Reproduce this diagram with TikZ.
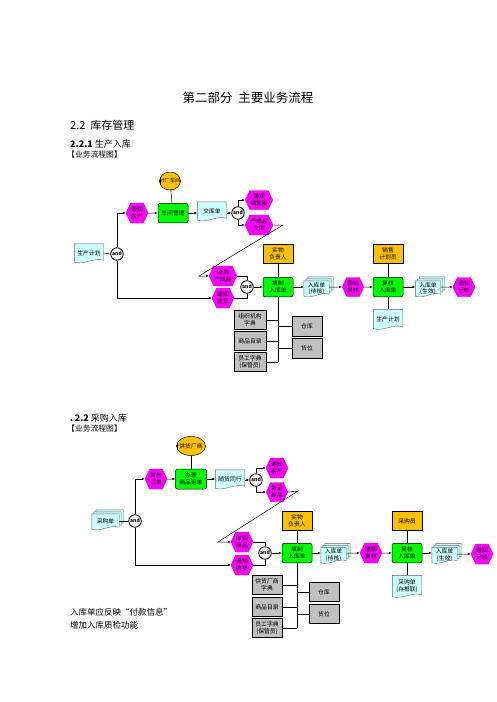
\documentclass[tikz,border=0pt]{standalone}
\usepackage{fontspec}
\setmainfont{Noto Sans CJK SC}
\usetikzlibrary{shapes.geometric,shapes.symbols,arrows.meta,backgrounds}

\definecolor{hexmag}{RGB}{255,0,255}
\definecolor{boxgreen}{RGB}{0,255,0}
\definecolor{roleorange}{RGB}{255,192,0}
\definecolor{doccyan}{RGB}{204,255,255}
\definecolor{dictgray}{RGB}{192,192,192}

\tikzset{
  lbl/.style={font=\fontsize{5.8}{6.6}\selectfont, align=center, inner sep=0.5pt},
  hexbox/.style={lbl, signal, signal to=east and west, signal pointer angle=130,
    fill=hexmag, draw=hexmag!75!black, line width=.4pt, minimum width=21pt, minimum height=20pt},
  taskbox/.style={lbl, rectangle, rounded corners=2pt, fill=boxgreen, draw=black,
    line width=.5pt, minimum width=30pt, minimum height=19.5pt},
  rolebox/.style={lbl, rectangle, fill=roleorange, draw=black, line width=.5pt,
    minimum width=30pt, minimum height=19pt},
  roleoval/.style={lbl, ellipse, fill=roleorange, draw=black, line width=.5pt,
    inner xsep=-4pt, inner ysep=0pt},
  dictbox/.style={lbl, rectangle, fill=dictgray, draw=black, line width=.9pt,
    minimum width=31pt, minimum height=19pt},
  docnode/.style={lbl, rectangle, minimum width=29pt, minimum height=18pt},
  stacknode/.style={lbl, rectangle, minimum width=25pt, minimum height=15pt},
  andgate/.style={circle, fill=white, draw=black, line width=.8pt, minimum size=12.5pt,
    inner sep=0pt, font=\fontsize{5}{5}\selectfont\bfseries},
  arr/.style={-{Latex[length=3pt,width=2.4pt]}, line width=.5pt},
  conn/.style={line width=.5pt},
}

% wavy document sheet behind a node (#1 = offset)
\newcommand{\docsheet}[2][0pt]{%
  \begin{scope}[on background layer]
    \filldraw[fill=doccyan, draw=black!60, line width=.4pt]
      ([shift={(#1,#1)}]#2.north west) -- ([shift={(#1,#1)}]#2.north east)
      -- ([shift={(#1,#1+2pt)}]#2.south east)
      .. controls +(-9pt,3pt) and +(9pt,-3pt) .. ([shift={(#1,#1)}]#2.south west) -- cycle;
  \end{scope}}
\newcommand{\docstack}[1]{\docsheet[4pt]{#1}\docsheet[2pt]{#1}\docsheet{#1}}
\newcommand{\leftbar}[1]{\draw[line width=1.6pt] ([xshift=.8pt]#1.north west) -- ([xshift=.8pt]#1.south west);}

\begin{document}
\begin{tikzpicture}[x=1pt,y=-1pt]
  \useasboundingbox (0,0) rectangle (496,702);

  % Headings
  \node[font=\fontsize{12.5}{13}\selectfont] (title) at (248,98) {第二部分\ \ 主要业务流程};
  \node[anchor=west, font=\fontsize{11}{12}\selectfont, inner sep=0pt] (sec) at (70,125) {2.2\ \ 库存管理};
  \node[anchor=west, font=\fontsize{9}{10}\selectfont, inner sep=0pt] (sub1) at (70,144) {\textbf{2.2.1}\ 生产入库};
  \node[anchor=west, font=\fontsize{7.8}{8}\selectfont, inner sep=0pt] (tag1) at (67,155) {【业务流程图】};

  % ---- 生产入库 ----
  \node[roleoval, font=\fontsize{5.2}{6}\selectfont, minimum width=21pt, minimum height=18pt] (fc) at (170,181) {分厂车间};
  \draw[line width=1.2pt] (fc.160) -- (fc.200);
  \node[hexbox] (tzsc) at (137,213) {通知\\生产};
  \node[taskbox] (cjgl) at (173,213) {车间管理};
  \node[docnode] (jkd) at (212,211) {交库单}; \docsheet{jkd}
  \node[andgate] (and1) at (238,213) {and};
  \node[hexbox, minimum width=22pt, minimum height=19pt] (tzxs) at (259,200) {通知\\销售部};
  \node[hexbox, minimum width=22pt] (ccp) at (259,225) {产成品\\交库};
  \node[docnode] (scjh) at (89,253) {生产计划}; \docsheet{scjh}
  \node[andgate] (and0) at (117,254) {and};
  \node[hexbox] (sdcp) at (223,276) {收到\\产成品};
  \node[hexbox] (tzsh) at (223,298) {通知\\收货};
  \node[andgate] (and2) at (247,287) {and};
  \node[rolebox] (swfz) at (278,254) {实物\\负责人}; \leftbar{swfz}
  \node[taskbox] (tzrk) at (278,287) {填制\\入库单};
  \node[stacknode] (rkdh) at (316.5,288.5) {入库单\\(待核)}; \docstack{rkdh}
  \node[hexbox, minimum width=20pt, minimum height=19pt] (tzfh) at (353,287) {通知\\复核};
  \node[rolebox] (xsjh) at (388,254) {销售\\计划员}; \leftbar{xsjh}
  \node[taskbox] (fhrk) at (388,287) {复核\\入库单};
  \node[docnode, minimum height=19pt] (scjh2) at (388,319) {生产计划}; \docsheet{scjh2}
  \node[stacknode] (rkds) at (428,288.5) {入库单\\(生效)}; \docstack{rkds}
  \node[hexbox, minimum width=22pt, minimum height=19pt] (tzjz) at (464,287) {通知\\记帐};
  \node[dictbox, minimum width=32pt] (zz) at (250,320) {组织机构\\字典};
  \node[dictbox, minimum width=32pt] (spml) at (250,341) {商品目录};
  \node[dictbox, minimum width=32pt] (ygzd) at (250,362) {员工字典\\(保管员)};
  \node[dictbox, minimum width=30pt, minimum height=20pt] (ck) at (307,326) {仓库};
  \node[dictbox, minimum width=30pt, minimum height=20pt] (hw) at (307,348) {货位};

  \coordinate (bend1) at (283,225);
  \coordinate (bend2) at (199,276);

  \draw[conn] (fc) -- (cjgl);
  \draw[conn] (scjh.east) -- (and0.west);
  \draw[arr] (and0.north) |- (tzsc.west);
  \draw[arr] (and0.south) |- (tzsh.west);
  \draw[arr] (tzsc) -- (cjgl);
  \draw[arr] (cjgl) -- (jkd.west |- cjgl);
  \draw[arr] (jkd.east |- and1) -- (and1);
  \draw[arr] (and1.north) |- (tzxs.west);
  \draw[arr] (and1.south) |- (ccp.west);
  \draw[arr] (ccp.east) -- (bend1) -- (bend2) -- (sdcp.west);
  \draw[conn] (sdcp.east) -| (and2.north);
  \draw[conn] (tzsh.east) -| (and2.south);
  \draw[arr] (and2) -- (tzrk);
  \draw[conn] (swfz) -- (tzrk);
  \draw[arr] (tzrk.east) -- (tzrk.east -| rkdh.west);
  \draw[arr] (rkdh.east |- tzfh) -- (tzfh);
  \draw[arr] (tzfh) -- (fhrk);
  \draw[conn] (xsjh) -- (fhrk);
  \draw[conn] (fhrk) -- (scjh2);
  \draw[arr] (fhrk.east) -- (fhrk.east -| rkds.west);
  \draw[arr] (rkds.east |- tzjz) -- (tzjz);
  \draw[conn] (tzrk.south) -- (tzrk.south |- ygzd.east);
  \foreach \d in {zz,spml,ygzd}
    \draw[conn] (\d.east) -- (\d.east -| tzrk.south);
  \foreach \d in {ck,hw}
    \draw[conn] (\d.west) -- (\d.west -| tzrk.south);

  % ---- 采购入库 ----
  \node[anchor=west, font=\fontsize{9}{10}\selectfont, inner sep=0pt] (sub2) at (70,418) {\textbf{.\,2.2}\ 采购入库};
  \node[anchor=west, font=\fontsize{7.8}{8}\selectfont, inner sep=0pt] (tag2) at (67,429) {【业务流程图】};

  \node[roleoval, minimum width=29pt, minimum height=19pt] (ghcs) at (191,446) {供货厂商};
  \draw[line width=1.2pt] (ghcs.166) -- (ghcs.194);
  \node[hexbox, minimum width=20pt] (fcdd) at (156,479) {发出\\订单};
  \node[taskbox, minimum width=31pt, minimum height=20pt] (blsp) at (191,479) {办理\\商品运单};
  \node[docnode] (shtx) at (230,479) {随货同行}; \docsheet{shtx}
  \node[andgate] (and4) at (256,480) {and};
  \node[hexbox] (tzkh) at (277,468) {通知\\客户};
  \node[hexbox, minimum height=19pt] (fysp) at (277,492) {发运\\商品};
  \node[stacknode, minimum width=27pt] (cgd) at (105.5,521.5) {采购单}; \docstack{cgd}
  \node[andgate] (and3) at (135,521) {and};
  \node[hexbox, minimum width=20pt] (sdsp) at (242,542) {收到\\商品};
  \node[hexbox, minimum width=20pt] (tzsh2) at (242,565) {通知\\收货};
  \node[andgate] (and5) at (265,553) {and};
  \node[rolebox] (swfz2) at (297,521) {实物\\负责人}; \leftbar{swfz2}
  \node[taskbox] (tzrk2) at (297,553) {填制\\入库单};
  \node[stacknode] (rkdh2) at (333.5,555) {入库单\\(待核)}; \docstack{rkdh2}
  \node[hexbox] (tzfh2) at (371,553) {通知\\复核};
  \node[rolebox] (cgy) at (407,521) {采购员}; \leftbar{cgy}
  \node[taskbox] (fhrk2) at (407,553) {复核\\入库单};
  \node[docnode, minimum height=21pt] (cgdc) at (407,586) {采购单\\(存根联)}; \docsheet{cgdc}
  \node[stacknode] (rkds2) at (444.5,555) {入库单\\(生效)}; \docstack{rkds2}
  \node[hexbox] (tzjz2) at (482,554) {通知\\记帐};
  \node[dictbox, minimum width=30pt] (ghzd) at (267,585) {供货厂商\\字典};
  \node[dictbox, minimum width=30pt] (spml2) at (267,607) {商品目录};
  \node[dictbox, minimum width=30pt] (ygzd2) at (267,628) {员工字典\\(保管员)};
  \node[dictbox, minimum width=30pt] (ck2) at (324,592) {仓库};
  \node[dictbox, minimum width=30pt] (hw2) at (324,614) {货位};

  \coordinate (bend3) at (298,491);
  \coordinate (bend4) at (218,542);

  \draw[conn] (ghcs) -- (blsp);
  \draw[conn] (cgd.east |- and3) -- (and3.west);
  \draw[arr] (and3.north) |- (fcdd.west);
  \draw[arr] (and3.south) |- (tzsh2.west);
  \draw[arr] (fcdd) -- (blsp);
  \draw[arr] (blsp) -- (shtx.west |- blsp);
  \draw[arr] (shtx.east |- and4) -- (and4);
  \draw[arr] (and4.north) |- (tzkh.west);
  \draw[arr] (and4.south) |- (fysp.west);
  \draw[arr] (fysp.east) -- (bend3) -- (bend4) -- (sdsp.west);
  \draw[conn] (sdsp.east) -| (and5.north);
  \draw[conn] (tzsh2.east) -| (and5.south);
  \draw[arr] (and5) -- (tzrk2);
  \draw[conn] (swfz2) -- (tzrk2);
  \draw[arr] (tzrk2.east) -- (tzrk2.east -| rkdh2.west);
  \draw[arr] (rkdh2.east |- tzfh2) -- (tzfh2);
  \draw[arr] (tzfh2) -- (fhrk2);
  \draw[conn] (cgy) -- (fhrk2);
  \draw[conn] (fhrk2) -- (cgdc);
  \draw[arr] (fhrk2.east) -- (fhrk2.east -| rkds2.west);
  \draw[arr] (rkds2.east |- tzjz2) -- (tzjz2);
  \draw[conn] (tzrk2.south) -- (tzrk2.south |- ygzd2.east);
  \foreach \d in {ghzd,spml2,ygzd2}
    \draw[conn] (\d.east) -- (\d.east -| tzrk2.south);
  \foreach \d in {ck2,hw2}
    \draw[conn] (\d.west) -- (\d.west -| tzrk2.south);

  % Notes
  \node[anchor=west, font=\fontsize{8.5}{9}\selectfont, inner sep=0pt] (note1) at (70,612) {入库单应反映“付款信息”};
  \node[anchor=west, font=\fontsize{8.5}{9}\selectfont, inner sep=0pt] (note2) at (70,625) {增加入库质检功能};
\end{tikzpicture}
\end{document}
